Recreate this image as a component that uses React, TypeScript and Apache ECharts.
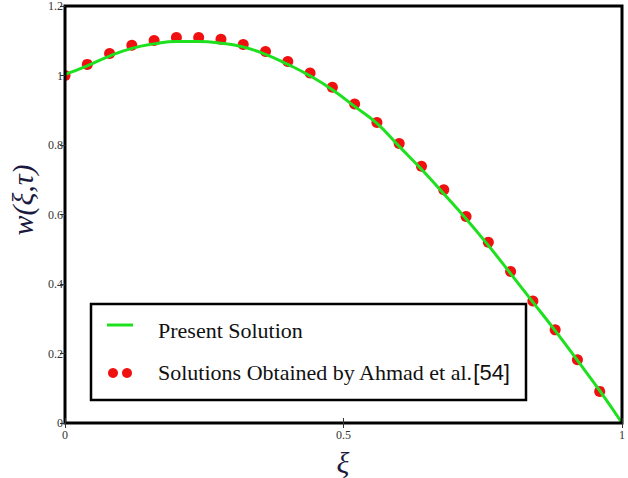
import React, { useEffect, useRef } from "react";
import * as echarts from "echarts";

const lineXi = [0, 0.04, 0.08, 0.12, 0.16, 0.2, 0.24, 0.28, 0.32, 0.36, 0.4, 0.44, 0.48, 0.52, 0.56, 0.6, 0.64, 0.68, 0.72, 0.76, 0.8, 0.84, 0.88, 0.92, 0.96, 1.0];
const lineW = [1.003, 1.028, 1.056, 1.078, 1.091, 1.098, 1.098, 1.093, 1.082, 1.061, 1.032, 0.999, 0.959, 0.911, 0.862, 0.796, 0.73, 0.66, 0.588, 0.511, 0.43, 0.348, 0.266, 0.18, 0.093, 0.0];

const dotXi = [0, 0.04, 0.08, 0.12, 0.16, 0.2, 0.24, 0.28, 0.32, 0.36, 0.4, 0.44, 0.48, 0.52, 0.56, 0.6, 0.64, 0.68, 0.72, 0.76, 0.8, 0.84, 0.88, 0.92, 0.96];
const dotW = [1.0, 1.032, 1.063, 1.087, 1.101, 1.109, 1.109, 1.104, 1.089, 1.069, 1.04, 1.007, 0.966, 0.918, 0.865, 0.804, 0.739, 0.671, 0.594, 0.52, 0.436, 0.351, 0.268, 0.182, 0.091];

const yTickLabels = ["0", "0.2", "0.4", "0.6", "0.8", "1", "1.2"];
const xTickLabels = ["0", "0.5", "1"];

const seriesNames = ["Present Solution", "Solutions Obtained by Ahmad et al.[54]"];

const SERIF = "'Liberation Serif', 'Times New Roman', serif";
const SANS = "'Liberation Sans', Arial, sans-serif";

export default function App() {
  const ref = useRef<HTMLDivElement>(null);
  useEffect(() => {
    if (!ref.current) return;
    const chart = echarts.init(ref.current, undefined, { renderer: "svg" });
    const tickLabel = { fontFamily: SERIF, fontSize: 12, color: "#333" };
    chart.setOption({
      animation: false,
      backgroundColor: "#fff",
      grid: { left: 65, right: 6, top: 5, bottom: 55, show: true, borderColor: "#000", borderWidth: 3, backgroundColor: "transparent", z: 5 },
      xAxis: [
        {
          type: "value", min: 0, max: 1, interval: 0.5, position: "bottom", z: 6,
          axisLine: { show: false }, splitLine: { show: false },
          axisTick: { show: true, inside: true, length: 5, lineStyle: { color: "#333" } },
          axisLabel: {
            ...tickLabel, margin: 6, showMinLabel: true, showMaxLabel: true,
            formatter: (v: number) => xTickLabels[Math.round(v / 0.5)] ?? "",
          },
        },
        {
          type: "value", min: 0, max: 1, interval: 0.5, position: "top", z: 6,
          axisLine: { show: false }, splitLine: { show: false },
          axisTick: { show: true, inside: true, length: 5, lineStyle: { color: "#333" } },
          axisLabel: { show: false },
        },
      ],
      yAxis: [
        {
          type: "value", min: 0, max: 1.2, interval: 0.2, position: "left", z: 6,
          axisLine: { show: false }, splitLine: { show: false },
          axisTick: { show: true, inside: false, length: 4, lineStyle: { color: "#333" } },
          axisLabel: {
            ...tickLabel, margin: 2, showMinLabel: true, showMaxLabel: true, hideOverlap: false,
            formatter: (v: number) => yTickLabels[Math.round(v / 0.2)] ?? "",
          },
        },
        {
          type: "value", min: 0, max: 1.2, interval: 0.2, position: "right", z: 6,
          axisLine: { show: false }, splitLine: { show: false },
          axisTick: { show: true, inside: true, length: 5, lineStyle: { color: "#333" } },
          axisLabel: { show: false },
        },
      ],
      series: [
        {
          name: seriesNames[0],
          type: "line",
          smooth: true,
          showSymbol: false,
          data: lineXi.map((x, i) => [x, lineW[i]]),
          lineStyle: { color: "#1ee01e", width: 3 },
          itemStyle: { color: "#1ee01e" },
          z: 3,
        },
        {
          name: seriesNames[1],
          type: "scatter",
          symbol: "circle",
          symbolSize: 11,
          data: dotXi.map((x, i) => [x, dotW[i]]),
          itemStyle: { color: "#f01010", opacity: 1 },
          z: 2,
        },
      ],
      graphic: [
        {
          type: "rect",
          shape: { x: 45, y: 0, width: 19, height: 430 },
          style: { fill: "#fff" },
          z: 4,
        },
        {
          type: "text",
          x: 22, y: 200, rotation: Math.PI / 2,
          style: {
            text: "w(ξ,τ)",
            fontFamily: SERIF, fontSize: 30, fontStyle: "italic",
            fill: "#1a1a40", align: "center", verticalAlign: "middle",
          },
        },
        {
          type: "text",
          x: 343, y: 462,
          style: {
            text: "ξ",
            fontFamily: SERIF, fontSize: 30, fontStyle: "italic",
            fill: "#1a1a40", align: "center", verticalAlign: "middle",
          },
        },
        {
          type: "rect",
          shape: { x: 91, y: 304, width: 435, height: 96 },
          style: { fill: "#fff", stroke: "#000", lineWidth: 2.5 },
          z: 10,
        },
        {
          type: "line",
          shape: { x1: 107, y1: 325, x2: 133, y2: 325 },
          style: { stroke: "#1ee01e", lineWidth: 3 },
          z: 11,
        },
        {
          type: "circle",
          shape: { cx: 113, cy: 373, r: 5 },
          style: { fill: "#f01010" },
          z: 11,
        },
        {
          type: "circle",
          shape: { cx: 127, cy: 373, r: 5 },
          style: { fill: "#f01010" },
          z: 11,
        },
        {
          type: "text",
          x: 158, y: 330,
          style: {
            text: seriesNames[0],
            fontFamily: SERIF, fontSize: 22, fill: "#111",
            verticalAlign: "middle",
          },
          z: 11,
        },
        {
          type: "text",
          x: 158, y: 372,
          style: {
            text: "{a|Solutions Obtained by Ahmad et al.}{b|[54]}",
            verticalAlign: "middle",
            rich: {
              a: { fontFamily: SERIF, fontSize: 22, fill: "#111", color: "#111" },
              b: { fontFamily: SANS, fontSize: 22, fill: "#111", color: "#111" },
            },
          },
          z: 11,
        },
      ],
    });
    return () => chart.dispose();
  }, []);
  return <div ref={ref} style={{ position: "fixed", left: 0, top: 0, width: 628, height: 478 }} />;
}
